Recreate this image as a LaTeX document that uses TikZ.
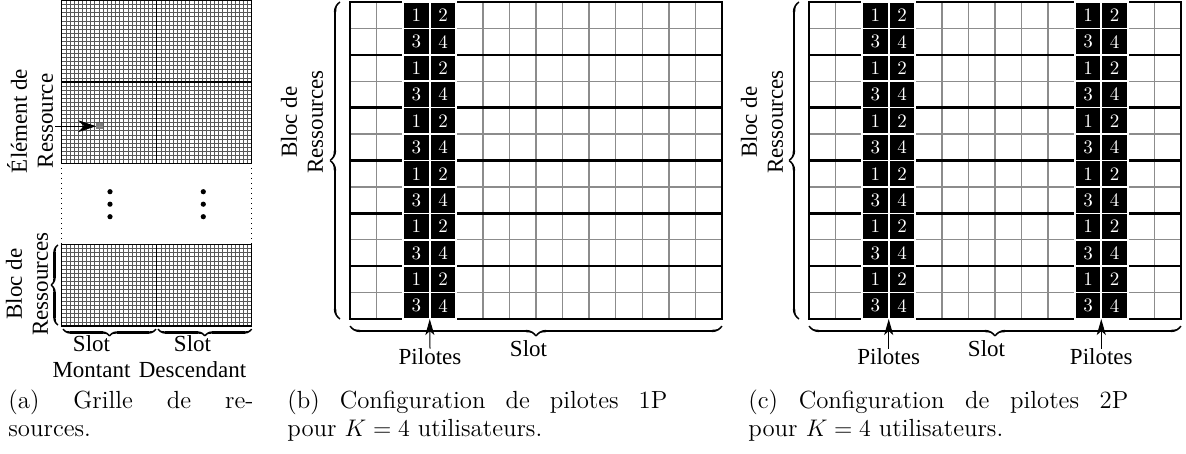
\documentclass[tikz,border=0pt]{standalone}
\usepackage{fontspec}
\newfontfamily\labfont{Liberation Serif}
\usetikzlibrary{decorations.pathreplacing,calligraphy,arrows.meta}
\newcommand\capfont{\fontsize{12.4}{14}\selectfont}
\newcommand\lfont{\labfont\fontsize{11.5}{13}\selectfont}
\def\cw{26.57}
\def\ch{26.42}
\def\aw{4.13}
\def\ah{4.07}
\newcommand\pilotstrip[3]{% #1 left x, #2 top y, #3 id
  \foreach \j in {0,...,11}{
    \pgfmathtruncatemacro\na{1+2*mod(\j,2)}
    \pgfmathtruncatemacro\nb{2+2*mod(\j,2)}
    \fill[pilot] ({#1},{#2+\j*\ch}) rectangle ({#1+2*\cw},{#2+(\j+1)*\ch});
    \draw[pilotsep] ({#1},{#2+\j*\ch}) rectangle ({#1+\cw},{#2+(\j+1)*\ch});
    \draw[pilotsep] ({#1+\cw},{#2+\j*\ch}) rectangle ({#1+2*\cw},{#2+(\j+1)*\ch});
    \node[pnum] (#3-\j-a) at ({#1+0.5*\cw},{#2+(\j+0.5)*\ch}) {\na};
    \node[pnum] (#3-\j-b) at ({#1+1.5*\cw},{#2+(\j+0.5)*\ch}) {\nb};
  }}
\newcommand\biggrid[2]{% #1 left x, #2 top y
  \foreach \i in {1,...,13}
    \draw[gthin] ({#1+\i*\cw},{#2}) -- ({#1+\i*\cw},{#2+12*\ch});
  \foreach \j in {1,3,...,11}
    \draw[gthin] ({#1},{#2+\j*\ch}) -- ({#1+14*\cw},{#2+\j*\ch});
  \foreach \j in {2,4,...,10}
    \draw[gthick] ({#1},{#2+\j*\ch}) -- ({#1+14*\cw},{#2+\j*\ch});
  \draw[gthick] ({#1},{#2}) rectangle ({#1+14*\cw},{#2+12*\ch});}
\newcommand\finegrid[3]{% #1 left x, #2 top y, #3 number of row blocks
  \pgfmathtruncatemacro\nr{20*#3}
  \foreach \i in {1,...,45}
    \draw[fine] ({#1+\i*\aw},{#2}) -- ({#1+\i*\aw},{#2+\nr*\ah});
  \foreach \j in {1,...,\nr}
    \draw[fine] ({#1},{#2+\j*\ah}) -- ({#1+46*\aw},{#2+\j*\ah});
  \draw[athick] ({#1+23*\aw},{#2}) -- ({#1+23*\aw},{#2+\nr*\ah});
  \draw[athick] ({#1},{#2}) rectangle ({#1+46*\aw},{#2+\nr*\ah});}
\tikzset{
  gthin/.style={draw=black!45, line width=0.7pt},
  gthick/.style={draw=black, line width=1.2pt},
  pilot/.style={fill=black},
  pilotsep/.style={draw=white, line width=0.8pt},
  pnum/.style={text=white, inner sep=0pt, font=\fontsize{9.5}{10}\selectfont},
  fine/.style={draw=black!65, line width=0.28pt},
  athick/.style={draw=black, line width=0.75pt},
  lab/.style={font=\lfont, align=center, inner sep=0pt},
  vlab/.style={lab, rotate=90},
  cbrace/.style={decorate, decoration={calligraphic brace, amplitude=#1}, line width=1.2pt},
  cbrace/.default=5pt,
  parrow/.style={-{Stealth[length=8pt,width=4.5pt,inset=2pt]}, line width=0.5pt},
  capl/.style={anchor=base west, inner sep=0pt, font=\capfont},
}
\begin{document}
\begin{tikzpicture}[x=0.5pt,y=-0.5pt]
\useasboundingbox (0,0) rectangle (1186,454);
% ---------------- panel (a)
\finegrid{61.7}{0.5}{2}
\draw[athick] (61.7,{0.5+20*\ah}) -- ({61.7+46*\aw},{0.5+20*\ah});
\finegrid{61.7}{244.5}{1}
\fill[black!50] (96,123) rectangle (102.5,129.5);
\coordinate (re) at (96,126.2);
\coordinate (restart) at (55,126.2);
\draw[-{Stealth[length=9pt,width=6pt,inset=3pt]}, line width=0.5pt] (restart) -- (re);
\draw[dotted, line width=0.5pt] (61.7,163) -- (61.7,244.5);
\draw[dotted, line width=0.5pt] ({61.7+46*\aw},163) -- ({61.7+46*\aw},244.5);
\foreach \yy in {191.7,204.2,216.7}{
  \fill (110,\yy) circle[radius=2.6];
  \fill (203.3,\yy) circle[radius=2.6];}
\node[vlab] (elt) at (30,121) {Élément de\\Ressource};
\node[vlab] (bloca) at (27,284) {Bloc de\\Ressources};
\draw[cbrace=3.5pt] (58,325) -- (58,245);
\draw[cbrace=3.5pt] (156,329) -- (63,329);
\draw[cbrace=3.5pt] (251.7,329) -- (158,329);
\node[lab] (slm) at (91.5,357) {Slot\\Montant};
\node[lab] (sld) at (192.5,357) {Slot\\Descendant};
% ---------------- panel (b)
\biggrid{350}{2}
\pilotstrip{350+2*\cw}{2}{pb}
\draw[cbrace=5pt] (340,319) -- (340,2);
\draw[cbrace=5pt] ({350+14*\cw},326) -- (350,326);
\node[vlab] (blocb) at (302,122) {Bloc de\\Ressources};
\node[lab] (slotb) at (528.5,349) {Slot};
\node[lab] (pilb) at (430,357) {Pilotes};
\coordinate (pb) at ({350+3*\cw},{2+12*\ch});
\draw[parrow] (pilb.north) -- (pb);
% ---------------- panel (c)
\biggrid{809}{2}
\pilotstrip{809+2*\cw}{2}{pc}
\pilotstrip{809+10*\cw}{2}{pd}
\draw[cbrace=5pt] (799,319) -- (799,2);
\draw[cbrace=5pt] ({809+14*\cw},326) -- (809,326);
\node[vlab] (blocc) at (762,122) {Bloc de\\Ressources};
\node[lab] (slotc) at (986.5,349) {Slot};
\node[lab] (pilc) at ({809+3*\cw},357) {Pilotes};
\node[lab] (pild) at ({809+11*\cw},357) {Pilotes};
\coordinate (pc) at ({809+3*\cw},{2+12*\ch});
\coordinate (pd) at ({809+11*\cw},{2+12*\ch});
\draw[parrow] (pilc.north) -- (pc);
\draw[parrow] (pild.north) -- (pd);
% ---------------- captions
\node[capl] (capa1) at (8,408) {\makebox[122.5pt][s]{(a) Grille de re-}};
\node[capl] (capa2) at (8,436) {sources.};
\node[capl] (capb1) at (287,408) {\makebox[190pt][s]{(b) Configuration de pilotes 1P}};
\node[capl] (capb2) at (287,436) {pour $K=4$ utilisateurs.};
\node[capl] (capc1) at (748,408) {\makebox[190pt][s]{(c) Configuration de pilotes 2P}};
\node[capl] (capc2) at (748,436) {pour $K=4$ utilisateurs.};
\end{tikzpicture}
\end{document}
